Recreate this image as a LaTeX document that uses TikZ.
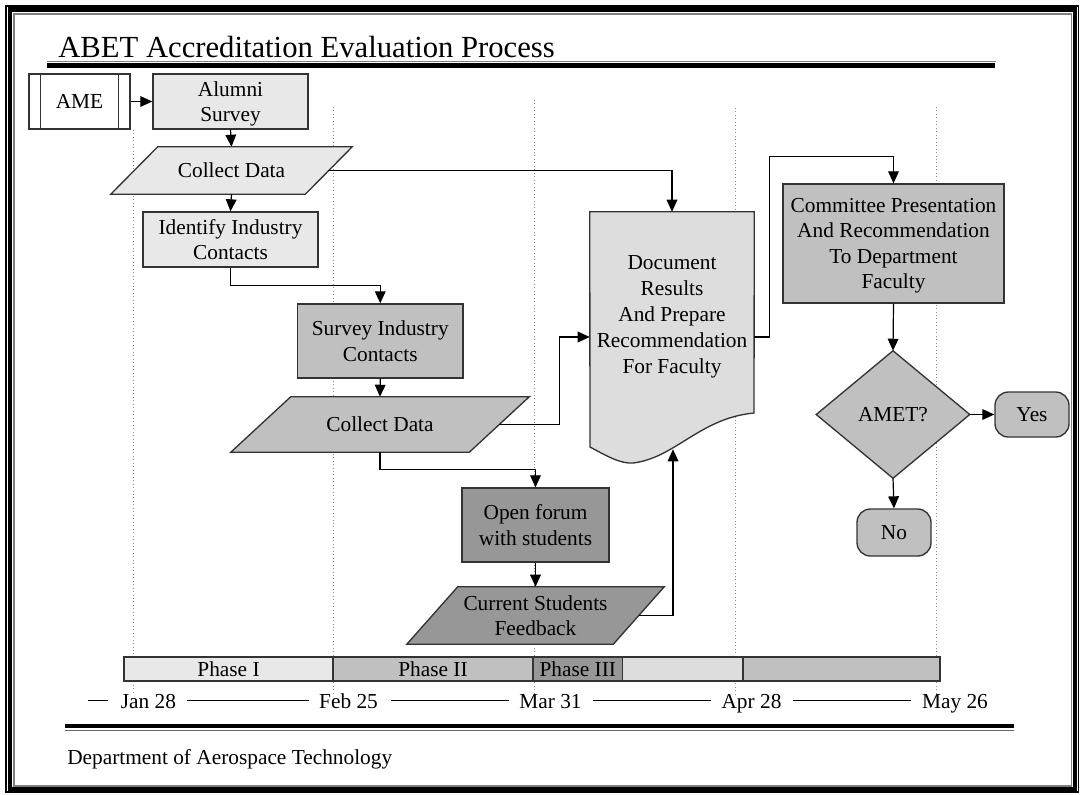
\documentclass[tikz,border=0pt]{standalone}
\usepackage{fontspec}
\setmainfont{Liberation Serif}
\usetikzlibrary{arrows.meta,calc}
\pgfdeclarelayer{bgdots}
\pgfdeclarelayer{bgshapes}
\pgfsetlayers{bgdots,bgshapes,main}
\definecolor{gA}{HTML}{E8E8E8}
\definecolor{gDoc}{HTML}{DDDDDD}
\definecolor{gB}{HTML}{C0C0C0}
\definecolor{gC}{HTML}{979797}
\definecolor{bord}{HTML}{333333}
\newcommand\bodyfont{\fontsize{16}{19}\selectfont}
\begin{document}
\begin{tikzpicture}[x=0.75pt,y=-0.75pt,
  sz/.style 2 args={minimum width=#1*0.75pt, minimum height=#2*0.75pt},
  box/.style={draw=bord, line width=1pt, align=center, font=\bodyfont, inner sep=1pt, text depth=0pt},
  shp/.style={align=center, font=\bodyfont, inner sep=1pt, text depth=0pt},
  shfill/.style={draw=bord, line width=1pt},
  arr/.style={draw=black, line width=0.9pt, -{Triangle[length=9pt,width=8pt]}},
  dotl/.style={draw=black!45, dotted, line width=0.6pt},
  phase/.style={draw=bord, line width=1pt, font=\bodyfont, inner sep=0pt},
  datel/.style={font=\bodyfont, inner sep=0pt, anchor=base},
  tline/.style={draw=black, line width=0.7pt}]
\useasboundingbox (0,0) rectangle (1081,794);

% frame
\draw[black, line width=1.1pt] (5.8,5.8) rectangle (1078.5,792);
\draw[black, line width=3.2pt] (9.8,9.5) rectangle (1075,789);
\draw[black!50, line width=1.3pt] (13.9,13.8) rectangle (1071.5,786);

% title and rules
\node[anchor=base west, font=\fontsize{23}{27}\selectfont, inner sep=0pt] (title) at (58,57) {ABET Accreditation Evaluation Process};
\draw[black!50, line width=1.1pt] (47,61.7) -- (996,61.7);
\draw[black, line width=3.6pt] (47,65.8) -- (995,65.8);
\draw[black, line width=3pt] (65,726) -- (1014,726);
\draw[black!60, line width=1pt] (65,730.2) -- (1014,730.2);
\node[anchor=base west, font=\bodyfont, inner sep=0pt] (footer) at (67,764) {Department of Aerospace Technology};

% dotted time lines
\begin{pgfonlayer}{bgdots}
\draw[dotl] (133,130) -- (133,694);
\draw[dotl] (333,107) -- (333,694);
\draw[dotl] (534,100) -- (534,694);
\draw[dotl] (735,108) -- (735,694);
\draw[dotl] (936,107) -- (936,694);
\end{pgfonlayer}

% nodes
\node[box, fill=white, sz={101}{55}] (ame) at (79.5,101.5) {AME};
\draw[bord, line width=1pt] ($(ame.north west)+(12,0)$) -- ($(ame.south west)+(12,0)$);
\draw[bord, line width=1pt] ($(ame.north east)+(-12,0)$) -- ($(ame.south east)+(-12,0)$);
\node[box, fill=gA, sz={155}{55}] (alumni) at (230.5,101.5) {Alumni\\Survey};
\node[shp, sz={241}{47}] (cd1) at (231.5,170.5) {Collect Data};
\node[box, fill=gA, sz={175}{55}] (identify) at (230.5,239.5) {Identify Industry\\Contacts};
\node[box, fill=gB, sz={165.5}{74}] (survey) at (380.25,341) {Survey Industry\\Contacts};
\node[shp, sz={298}{55}] (cd2) at (380,424.5) {Collect Data};
\node[box, fill=gC, sz={147}{74}] (forum) at (535.5,525) {Open forum\\with students};
\node[shp, sz={257}{57}] (csf) at (535.5,615.5) {Current Students\\Feedback};
\node[shp, sz={164}{205}, font=\fontsize{16}{19.5}\selectfont] (doc) at (672,314.5) {Document\\Results\\And Prepare\\Recommendation\\For Faculty};
\node[box, fill=gB, sz={221}{119}] (comm) at (893.5,243.5) {Committee Presentation\\And Recommendation\\To Department\\Faculty};
\node[shp, sz={153}{127}] (dia) at (893,414.5) {AMET?};
\node[box, fill=gB, rounded corners=10pt, sz={74}{45}] (yes) at (1032,414.5) {Yes};
\node[box, fill=gB, rounded corners=10pt, sz={74}{47}] (no) at (894,532.5) {No};

% shapes behind texts
\begin{pgfonlayer}{bgshapes}
\filldraw[shfill, fill=gA] (cd1.south west) -- ($(cd1.north west)+(47,0)$) -- (cd1.north east) -- ($(cd1.south east)+(-47,0)$) -- cycle;
\filldraw[shfill, fill=gB] (cd2.south west) -- ($(cd2.north west)+(60,0)$) -- (cd2.north east) -- ($(cd2.south east)+(-60,0)$) -- cycle;
\filldraw[shfill, fill=gC] (csf.south west) -- ($(csf.north west)+(51,0)$) -- (csf.north east) -- ($(csf.south east)+(-51,0)$) -- cycle;
\filldraw[shfill, fill=gDoc] (doc.north west) -- (doc.north east) -- (754,413)
  .. controls (700,418) and (675,458) .. (633,463)
  .. controls (620,464) and (605,455) .. (590,447) -- cycle;
\filldraw[shfill, fill=gB] (dia.north) -- (dia.east) -- (dia.south) -- (dia.west) -- cycle;
\end{pgfonlayer}

% connectors
\draw[arr] (ame.east) -- (alumni.west);
\draw[arr] (alumni.south) -- (cd1.north);
\draw[arr] (cd1.south) -- (identify.north);
\draw[arr] (identify.south) -- ++(0,18) -| (survey.north);
\draw[arr] (survey.south) -- (cd2.north);
\draw[arr] ($(cd1.east)+(-24,0)$) -| (doc.north);
\draw[arr] ($(cd2.east)+(-30,0)$) -- ++(60,0) |- ($(doc.west)+(0,22.5)$);
\draw[arr] (cd2.south) -- ++(0,17) -| (forum.north);
\draw[arr] (forum.south) -- (csf.north);
\draw[arr] ($(csf.east)+(-25.5,0)$) -| ($(doc.south)+(1,32)$);
\draw[arr] ($(doc.east)+(0,22.5)$) -- ++(15,0) |- ($(comm.north)+(0,-27)$) -- (comm.north);
\draw[arr] (comm.south) -- (dia.north);
\draw[arr] (dia.east) -- (yes.west);
\draw[arr] (dia.south) -- (no.north);

% phase bar
\node[phase, fill=gA, sz={209}{24}] (p1) at (228.5,669) {Phase I};
\node[phase, fill=gB, sz={200}{24}] (p2) at (433,669) {Phase II};
\node[phase, fill=gC, sz={89.5}{24}] (p3) at (577.75,669) {Phase III};
\node[phase, fill=gDoc, sz={120.5}{24}] (p4) at (682.75,669) {};
\node[phase, fill=gB, sz={197}{24}] (p5) at (841.5,669) {};

% dates
\node[datel] (d1) at (148.5,708) {Jan 28};
\node[datel] (d2) at (348.5,708) {Feb 25};
\node[datel] (d3) at (550.5,708) {Mar 31};
\node[datel] (d4) at (751.5,708) {Apr 28};
\node[datel] (d5) at (955,708) {May 26};
\draw[tline] (88,700) -- (108,700);
\draw[tline] (187,700) -- (309,700);
\draw[tline] (391,700) -- (509,700);
\draw[tline] (593,700) -- (711,700);
\draw[tline] (793,700) -- (911,700);
\end{tikzpicture}
\end{document}
